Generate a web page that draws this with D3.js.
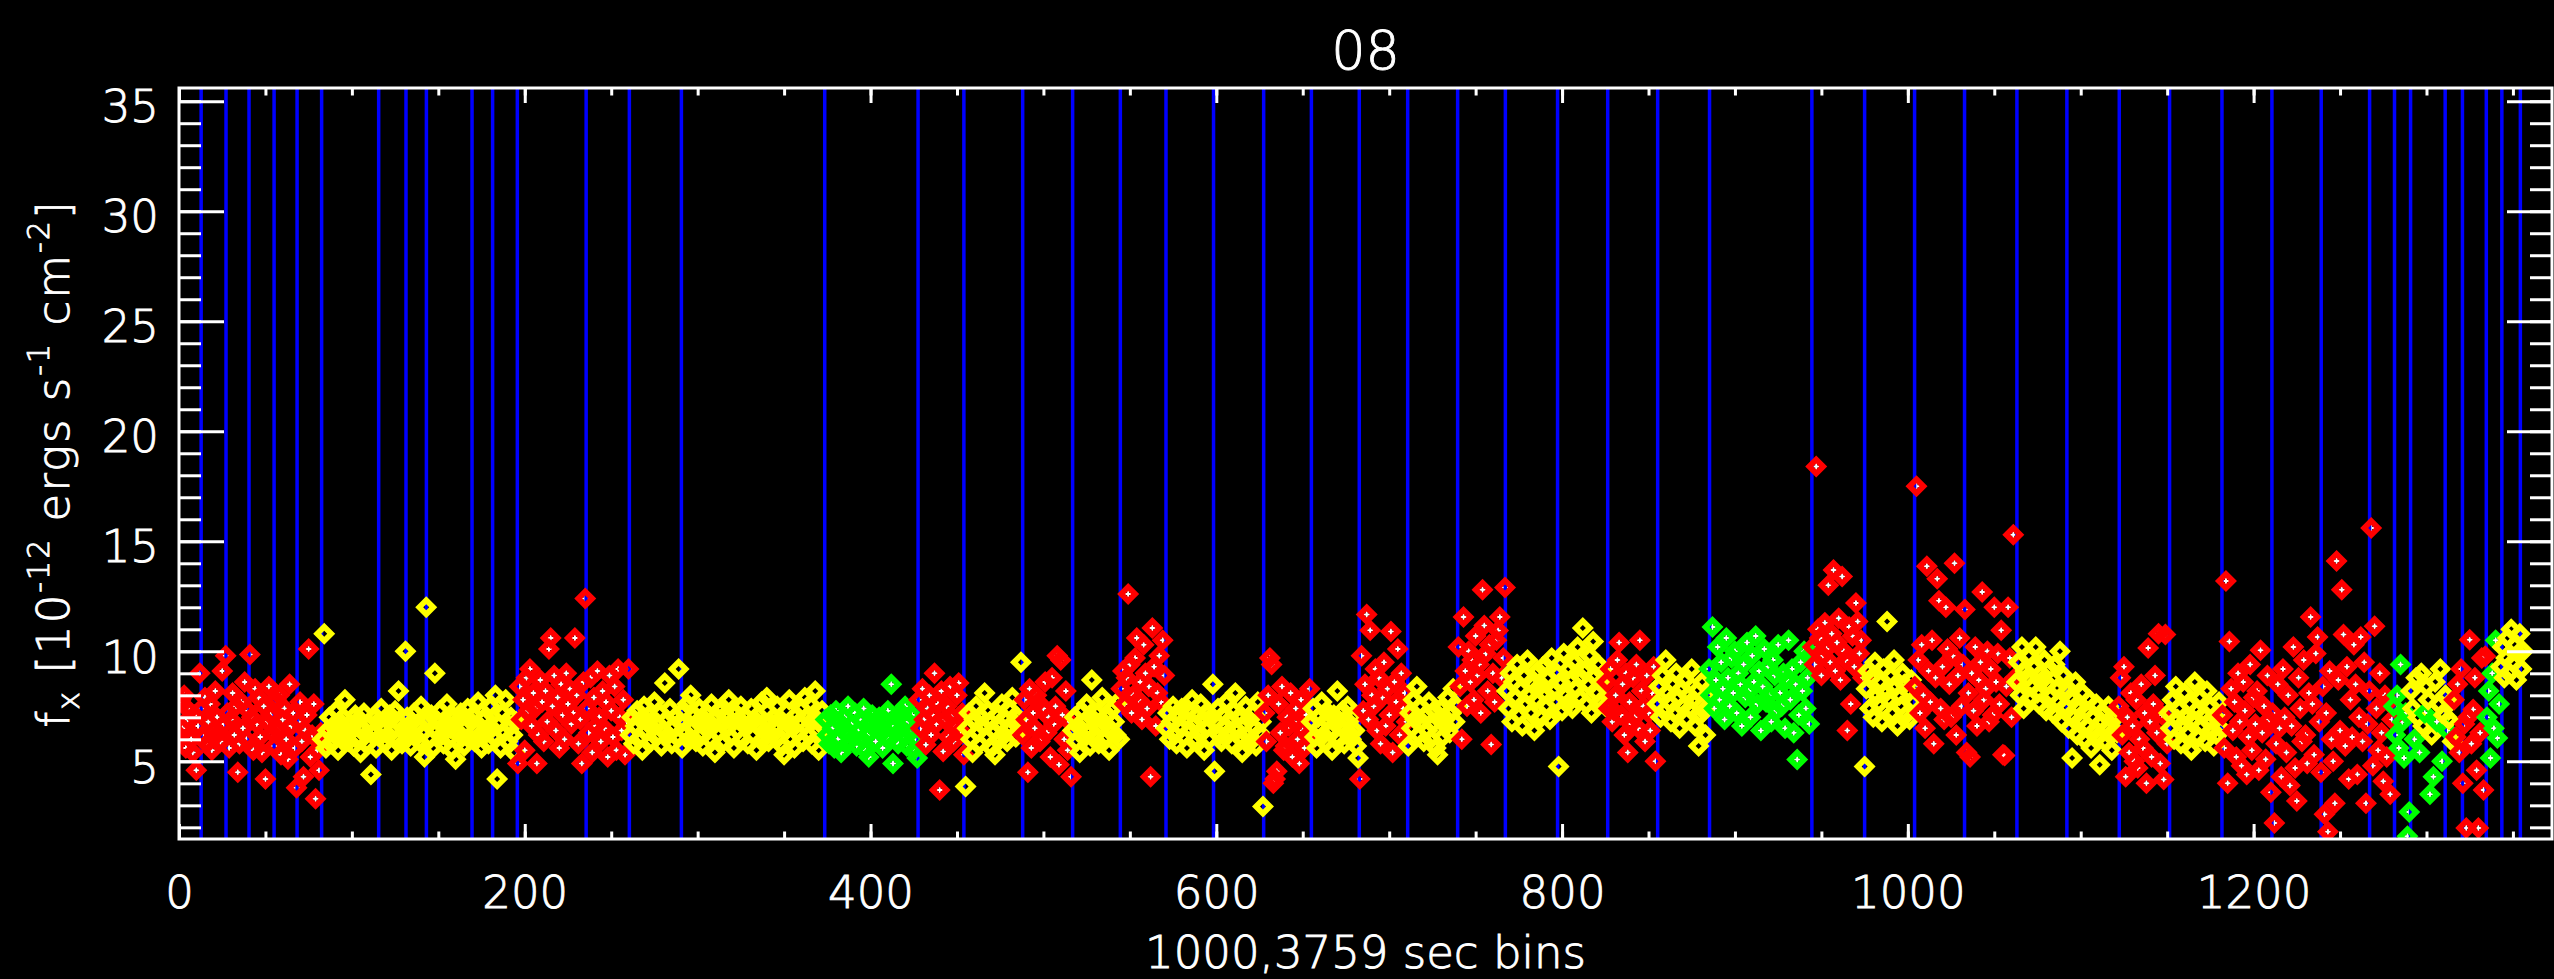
<!DOCTYPE html>
<html>
<head>
<meta charset="utf-8">
<script src="https://cdn.jsdelivr.net/npm/d3@7"></script>
<style>
  html, body { margin: 0; padding: 0; background: #000; }
  svg { display: block; }
  text { font-family: "DejaVu Sans", sans-serif; font-weight: 200; fill: #fff; stroke: #fff; stroke-width: 0.9px; }
</style>
</head>
<body>
<div id="app"></div>
<script>
const width = 2554;
const height = 979;
const margin = { top: 88, right: 2, bottom: 140, left: 179 };

const chartTitle = "08";
const xTitle = "1000,3759 sec bins";
const xDomain = [0, 1372.6];
const yDomain = [1.47, 35.6];
const xMajorTicks = [0, 200, 400, 600, 800, 1000, 1200];
const yMajorTicks = [5, 10, 15, 20, 25, 30, 35];

// bins where the blue interval lines sit
const intervalEdges = [12.8, 27.2, 40.5, 55, 68.3, 82.5, 115.5, 131.3, 143.1, 169.5, 181.4,
  195.7, 235.5, 260.5, 290.6, 373.5, 427.5, 454, 488, 516.9, 544.5, 570.9, 598.4, 627.4,
  655, 682.7, 710.7, 739.6, 767.2, 797.4, 826.4, 855.3, 885.3, 944.5, 975, 1003.9, 1032.8,
  1063.1, 1092, 1122.3, 1151.4, 1181.7, 1210.6, 1239.1, 1267.1, 1281.5, 1290.8, 1310.8,
  1320.8, 1334.6, 1343.6, 1354.3];

// first bin and colour class of each run of points
const runStart = [0, 83, 196, 261, 374, 428, 455, 488, 517, 545,
  571, 628, 655, 683, 711, 740, 768, 826, 855, 885,
  945, 975, 1004, 1063, 1122, 1151, 1182, 1281, 1291, 1293,
  1294, 1296, 1297, 1299, 1300, 1302, 1303, 1304, 1305, 1306,
  1307, 1309, 1310, 1312, 1313, 1316, 1335, 1343];
const runClass = ["red", "yellow", "red", "yellow", "green", "red", "yellow", "red", "yellow", "red",
  "yellow", "red", "yellow", "red", "yellow", "red", "yellow", "red", "yellow", "green",
  "red", "yellow", "red", "yellow", "red", "yellow", "red", "green", "yellow", "green",
  "yellow", "green", "yellow", "green", "yellow", "green", "yellow", "green", "yellow", "green",
  "yellow", "green", "yellow", "green", "yellow", "red", "green", "yellow"];

// flux per bin, one list per run
const fluxRuns = [
  [6.2, 7.8, 6.5, 8.0, 5.6, 6.9, 7.3, 6.0, 5.4, 7.1, 4.6, 6.6, 9.0,
   7.4, 6.1, 7.9, 5.8, 6.8, 7.6, 5.5, 6.4, 8.2, 7.0, 6.3, 5.9, 9.1, 6.7,
   9.8, 7.2, 5.6, 6.9, 8.1, 6.2, 7.5, 4.5, 5.8, 7.7, 6.5, 8.6, 6.0, 7.3,
   9.85, 7.0, 5.5, 8.3, 6.7, 7.9, 6.1, 5.4, 7.5, 4.2, 6.8, 8.4, 7.1, 6.3,
   5.7, 7.8, 6.4, 8.0, 5.3, 6.9, 7.4, 6.0, 5.1, 8.5, 6.6, 7.2, 5.6,
   3.8, 6.8, 7.7, 5.9, 4.3, 6.4, 7.1, 10.1, 5.2, 6.2, 7.6, 3.3, 5.5, 4.6, 6.3],
  [6.0, 10.8, 5.6, 6.4, 7.0, 5.8, 6.6, 6.2, 7.3, 5.5, 6.8, 6.1, 7.0, 7.8, 6.3, 5.9, 6.7,
   6.4, 5.7, 7.1, 6.0, 6.9, 5.4, 6.5, 7.2, 6.2, 5.8, 6.7, 4.4, 6.3, 7.0, 5.6, 6.8, 6.1,
   7.4, 6.6, 5.9, 6.9, 6.2, 7.1, 5.5, 6.4, 7.3, 6.0, 8.2, 6.7, 5.8, 6.5, 10.0, 7.0, 6.2,
   5.7, 6.8, 7.2, 6.1, 6.6, 5.9, 7.5, 6.3, 5.2, 12.0, 6.9, 6.0, 7.1, 5.6, 9.0, 6.4, 6.8,
   7.3, 6.2, 5.8, 6.7, 7.6, 6.0, 6.5, 5.5, 7.0, 5.1, 6.3, 6.9, 7.2, 6.1, 5.7, 6.6, 7.4,
   6.0, 6.8, 7.1, 5.9, 6.4, 7.7, 6.2, 5.6, 6.9, 7.0, 6.3, 5.8, 7.5, 6.5, 6.1, 8.0, 4.2,
   6.7, 5.6, 7.2, 6.3, 7.8, 5.9, 6.6, 7.0, 6.2, 5.4, 6.8],
  [4.9, 8.4, 6.9, 7.8, 5.5, 8.8, 7.3, 9.2, 6.6, 8.1, 7.4, 4.9, 6.2, 8.7, 7.7, 5.9,
   8.2, 6.8, 10.1, 10.6, 7.5, 8.9, 6.4, 7.9, 5.6, 8.5, 7.1, 6.0, 9.0, 7.6, 8.3, 6.7,
   7.2, 10.6, 8.0, 5.8, 6.9, 4.9, 8.6, 12.4, 7.4, 6.3, 8.8, 5.4, 7.9, 6.6, 9.1, 7.0,
   5.9, 8.2, 6.5, 7.7, 5.2, 8.9, 7.3, 6.1, 8.4, 5.5, 9.2, 7.0, 6.4, 7.8, 5.3, 6.8, 9.2],
  [6.2, 7.0, 5.8, 6.6, 7.3, 6.0, 6.9, 5.5, 7.5, 6.4, 6.8, 7.1, 5.9, 6.5, 7.7, 6.1, 6.7,
   7.2, 5.7, 6.4, 8.56, 6.9, 6.2, 7.4, 5.8, 6.6, 7.0, 6.1, 9.2, 6.8, 5.6, 7.3, 6.3, 7.6,
   6.0, 8.0, 6.5, 7.1, 5.9, 6.8, 7.4, 6.2, 5.7, 6.9, 7.2, 6.4, 6.0, 7.6, 6.6, 5.4, 7.0,
   6.3, 7.3, 6.7, 5.9, 7.1, 6.5, 7.8, 6.1, 6.8, 5.6, 7.2, 6.4, 6.9, 7.5, 6.0, 6.6, 7.0,
   5.8, 6.7, 7.4, 6.2, 6.9, 5.5, 7.1, 6.5, 7.7, 6.0, 6.4, 7.9, 5.9, 6.8, 6.2, 7.0, 6.6,
   7.5, 6.1, 6.9, 5.7, 5.3, 6.4, 6.7, 7.8, 6.0, 6.5, 5.6, 7.1, 6.3, 6.8, 7.4, 5.9, 7.9,
   7.0, 6.2, 7.6, 5.8, 6.9, 8.2, 6.4, 5.5, 6.7, 7.3, 6.0],
  [6.9, 6.2, 5.8, 7.1, 6.5, 5.6, 7.3, 6.0, 6.8, 5.4, 6.6, 7.0, 6.3, 7.5, 5.9, 6.7, 6.1, 7.2,
   5.7, 6.4, 6.9, 6.0, 7.4, 5.5, 6.2, 5.2, 6.8, 7.1, 6.5, 5.9, 6.7, 7.0, 6.3, 5.6, 6.9, 6.1,
   7.3, 6.0, 8.5, 4.9, 6.6, 7.0, 5.8, 6.4, 7.2, 6.2, 7.5, 5.7, 6.8, 6.3, 7.1, 5.5, 6.0, 5.15],
  [7.8, 6.5, 8.3, 6.9, 5.75, 7.4, 8.0, 6.2, 7.1, 9.0, 6.7, 7.6, 3.7, 8.2, 5.45,
   6.9, 7.5, 6.1, 8.4, 7.0, 5.9, 6.6, 8.0, 8.56, 6.4, 7.2, 5.3],
  [3.86, 6.5, 7.2, 6.0, 5.4, 6.9, 7.5, 6.3, 5.8, 7.0, 6.6, 8.1, 6.1, 7.3, 6.8, 5.6, 6.4,
   5.3, 7.1, 6.7, 6.0, 7.6, 6.2, 6.9, 5.9, 7.4, 6.5, 7.9, 6.8, 6.1, 7.0, 6.4, 9.5],
  [6.2, 7.8, 6.9, 4.5, 8.3, 5.6, 7.2, 6.5, 8.0, 7.7, 5.9, 6.06, 7.4, 8.6, 6.3,
   7.0, 5.2, 8.8, 6.7, 7.5, 9.8, 4.85, 9.6, 7.1, 6.0, 8.2, 5.5, 6.8, 4.3],
  [6.4, 7.0, 5.9, 6.6, 5.4, 7.3, 6.1, 6.8, 7.6, 6.3, 5.7, 8.7, 6.9, 6.2,
   7.2, 5.8, 6.5, 7.9, 6.0, 6.7, 7.1, 5.5, 6.4, 7.4, 6.8, 6.2, 7.7, 6.0],
  [8.3, 9.1, 7.6, 8.8, 12.6, 9.4, 7.2, 8.0, 9.7, 10.6, 7.8, 8.6, 6.9,
   10.3, 9.0, 7.4, 8.4, 4.3, 11.06, 9.3, 6.6, 8.1, 9.8, 7.7, 10.5, 8.9],
  [6.5, 7.2, 6.0, 6.8, 7.5, 6.2, 5.8, 7.0, 6.6, 7.4, 6.1, 6.9, 5.6, 7.3, 6.4, 7.8, 6.7, 6.0, 7.1,
   6.3, 7.6, 6.9, 5.5, 6.5, 7.2, 6.0, 7.0, 8.5, 4.55, 6.8, 7.4, 6.2, 5.9, 7.1, 6.6, 7.7, 6.3, 6.9,
   5.8, 7.3, 8.1, 6.4, 7.0, 6.1, 5.4, 6.7, 7.5, 6.2, 6.9, 5.9, 7.2, 6.5, 5.7, 7.7, 6.3, 6.8, 2.95],
  [7.2, 5.9, 8.0, 9.7, 9.4, 4.0, 4.2, 4.55, 7.6, 6.3, 8.4, 5.5, 5.7, 7.0,
   6.6, 8.1, 5.2, 6.8, 7.4, 6.0, 4.9, 7.8, 6.4, 5.6, 7.1, 6.2, 8.3],
  [6.8, 7.4, 6.1, 5.6, 7.0, 6.5, 7.7, 6.2, 5.9, 6.9, 7.2, 6.4, 5.5, 7.1,
   6.7, 8.2, 6.0, 6.6, 7.3, 5.8, 6.9, 7.5, 6.3, 6.0, 7.0, 6.4, 5.7, 5.15],
  [4.2, 9.8, 7.3, 8.5, 11.67, 6.9, 10.96, 8.0, 7.5, 9.2, 6.4, 8.8, 5.8, 7.9,
   9.5, 6.6, 8.3, 7.1, 10.9, 5.4, 8.6, 7.7, 10.1, 6.2, 9.0, 7.4, 8.1, 6.8],
  [5.7, 7.2, 6.5, 7.8, 6.9, 8.4, 6.2, 7.5, 6.8, 5.9, 7.1, 6.4, 7.7, 6.0, 6.7,
   7.3, 5.6, 5.3, 6.9, 7.4, 6.1, 7.0, 6.6, 7.9, 6.3, 7.2, 8.3, 6.8, 7.5],
  [10.2, 8.4, 6.0, 11.56, 9.1, 7.5, 10.0, 8.6, 9.6, 7.8, 10.7, 8.9, 9.4, 7.2,
   12.8, 11.17, 9.9, 8.2, 10.3, 5.76, 9.0, 7.7, 10.5, 10.94, 11.56, 8.8, 9.7, 12.9],
  [8.2, 7.4, 9.0, 6.8, 8.6, 7.9, 9.4, 7.1, 8.3, 6.6, 8.9, 7.6, 9.6, 8.0, 7.2, 8.5, 6.4, 7.8, 9.1,
   8.4, 7.0, 9.3, 8.1, 7.5, 8.8, 6.9, 9.7, 8.2, 7.7, 9.0, 4.77, 8.6, 7.3, 9.9, 8.0, 7.6, 9.2, 8.7,
   7.4, 9.5, 8.3, 10.2, 7.9, 8.8, 11.06, 9.1, 7.6, 8.5, 9.8, 7.2, 10.45, 8.9, 8.1, 9.4, 7.7, 8.6, 9.0, 7.5],
  [8.6, 7.4, 9.2, 6.8, 7.3, 8.0, 9.6, 10.4, 7.1, 8.5, 6.2, 9.0, 5.4, 7.7, 6.7,
   8.8, 7.0, 9.4, 6.5, 10.5, 8.2, 7.5, 5.9, 8.9, 7.2, 6.4, 8.1, 9.3, 5.0],
  [7.6, 8.4, 7.0, 8.9, 7.3, 9.6, 8.1, 7.7, 6.8, 8.5, 7.2, 9.0, 7.9, 6.5, 8.3,
   7.5, 8.7, 6.9, 8.0, 7.4, 9.2, 7.8, 6.6, 8.2, 5.7, 7.1, 8.6, 7.3, 6.2, 8.0],
  [9.2, 8.0, 11.1, 7.4, 8.7, 10.2, 7.8, 9.5, 8.3, 6.9, 10.6, 8.8, 7.5, 9.7, 8.1, 10.0, 7.2, 9.0, 8.5, 6.6,
   9.4, 7.9, 10.4, 8.2, 7.0, 9.8, 8.6, 10.7, 7.6, 9.1, 6.4, 8.4, 10.1, 7.7, 9.3, 8.0, 6.8, 9.6, 8.9, 7.3,
   10.3, 8.1, 7.5, 9.0, 6.5, 8.7, 10.5, 7.8, 9.2, 6.3, 8.5, 5.08, 7.1, 9.5, 8.2, 10.0, 7.4, 8.8, 6.7, 9.9],
  [10.2, 9.4, 18.4, 11.0, 10.6, 8.9, 9.8, 11.3, 10.1, 13.0, 9.5, 10.8, 13.7, 9.1, 10.4,
   11.5, 8.7, 13.4, 10.0, 9.6, 6.4, 11.1, 7.6, 10.7, 9.3, 12.2, 11.36, 9.9, 10.5, 8.8],
  [4.77, 8.3, 9.1, 7.4, 8.8, 7.0, 9.5, 8.0, 7.6, 8.6, 6.8, 9.2, 8.1, 11.36, 7.8,
   8.9, 7.2, 9.6, 8.4, 6.6, 8.0, 7.5, 9.0, 8.5, 7.1, 8.2, 6.9, 8.7, 7.7],
  [8.4, 17.5, 9.6, 7.2, 10.3, 8.0, 6.5, 13.86, 9.1, 7.7, 10.5, 5.8, 8.8, 13.3, 12.3, 7.4, 9.3, 6.9, 12.0, 10.1,
   8.5, 7.0, 9.8, 14.0, 6.2, 8.9, 10.6, 7.5, 9.4, 11.9, 5.4, 8.1, 5.2, 9.0, 7.3, 10.2, 6.6, 8.7, 9.5, 12.7,
   7.8, 8.3, 10.0, 6.8, 9.2, 7.1, 12.0, 8.6, 9.9, 7.6, 10.96, 5.3, 5.26, 8.4, 12.0, 9.7, 7.0, 15.3, 8.8],
  [8.6, 9.5, 8.0, 10.2, 7.4, 9.1, 8.8, 9.8, 7.9, 8.4, 9.3, 10.2, 8.1, 7.6, 9.0, 8.7, 9.6, 7.3, 8.5, 9.2,
   8.0, 7.2, 9.4, 8.3, 7.7, 10.0, 6.8, 8.9, 7.5, 8.2, 6.5, 7.9, 5.15, 7.0, 8.6, 6.2, 7.4, 6.9, 8.1, 6.0,
   7.3, 6.6, 7.8, 5.6, 7.0, 6.4, 7.6, 6.1, 4.85, 6.8, 7.2, 5.9, 6.5, 7.5, 6.2, 5.5, 6.9, 7.1, 6.3],
  [7.5, 8.8, 6.2, 9.3, 4.3, 7.0, 5.4, 8.1, 6.6, 5.0, 7.8, 4.7, 6.0, 8.5, 5.6,
   7.2, 4.0, 10.15, 6.8, 5.2, 7.6, 8.9, 6.3, 10.8, 4.9, 7.1, 4.17, 10.76, 5.8],
  [7.2, 6.5, 7.8, 6.0, 8.4, 6.9, 7.4, 5.8, 6.7, 8.1, 7.0, 6.3, 7.6, 5.5, 6.9, 8.6,
   7.3, 6.1, 7.9, 6.6, 7.1, 5.9, 8.2, 6.8, 7.5, 6.4, 5.7, 7.0, 6.2, 7.7, 6.5],
  [7.1, 5.6, 13.2, 4.0, 10.45, 8.3, 6.4, 7.7, 5.2, 9.0, 6.8, 4.8, 8.6, 7.3, 4.4, 6.1, 9.4, 5.5, 7.9, 6.7,
   8.2, 4.6, 10.05, 6.3, 7.5, 5.1, 8.9, 6.9, 3.6, 7.2, 2.2, 5.8, 8.5, 6.5, 4.3, 9.2, 7.0, 5.4, 8.0, 3.9,
   6.6, 10.2, 4.7, 3.2, 8.8, 7.4, 5.9, 9.6, 6.2, 4.9, 8.1, 11.56, 7.6, 5.3, 9.9, 10.65, 6.8, 4.5, 8.4, 2.6,
   7.2, 1.8, 9.1, 6.0, 5.0, 3.1, 14.1, 8.7, 6.4, 12.8, 10.76, 5.7, 9.3, 4.2, 7.8, 6.1, 10.3, 8.5, 4.4, 7.0,
   10.65, 5.9, 9.5, 3.1, 6.7, 8.2, 15.6, 4.8, 11.14, 7.4, 5.5, 9.0, 6.3, 4.1, 8.0, 5.2, 7.7, 3.5, 6.9],
  [7.5, 6.2, 8.0, 5.6, 9.4, 6.8, 5.15, 7.2, 1.6, 2.7],
  [8.2, 7.4],
  [6.0],
  [8.8, 7.0],
  [5.4],
  [9.0, 6.6],
  [7.2],
  [8.4, 7.8],
  [3.5],
  [6.2],
  [4.3],
  [8.6],
  [6.8],
  [7.6, 9.2],
  [5.0],
  [7.1, 8.0],
  [6.4],
  [6.9, 7.7, 5.9],
  [7.8, 6.1, 8.5, 5.4, 9.2, 4.0, 6.7, 1.97, 7.0, 10.53, 5.8, 7.35, 8.8, 4.6, 1.97, 6.3, 9.7, 3.7, 9.77],
  [7.0, 8.2, 5.15, 9.0, 6.5, 10.5, 6.06, 7.6],
  [9.3, 10.2, 8.8, 9.7, 10.6, 9.0, 11.0, 9.5, 10.3, 8.7, 9.9, 10.8, 9.2, 10.0]
];

const classColor = { red: "#ff0000", yellow: "#ffff00", green: "#00ff00" };

const points = [];
fluxRuns.forEach((run, k) => {
  run.forEach((v, j) => points.push({ bin: runStart[k] + j, flux: v, cls: runClass[k] }));
});

const xScale = d3.scaleLinear().domain(xDomain).range([margin.left, width - margin.right]);
const yScale = d3.scaleLinear().domain(yDomain).range([height - margin.bottom, margin.top]);
const plotTop = margin.top;
const plotBottom = height - margin.bottom;

const svg = d3.select("div#app")
  .append("svg")
  .attr("width", width)
  .attr("height", height)
  .style("background", "#000");

svg.append("defs").append("clipPath").attr("id", "plotClip")
  .append("rect")
  .attr("x", margin.left)
  .attr("y", plotTop)
  .attr("width", width - margin.right - margin.left)
  .attr("height", plotBottom - plotTop);

const plot = svg.append("g").attr("clip-path", "url(#plotClip)");

// white centre marks (show through the diamond holes)
plot.append("g")
  .selectAll("path")
  .data(points.filter((d) => d.cls !== "yellow"))
  .join("path")
  .attr("transform", (d) => `translate(${xScale(d.bin)},${yScale(d.flux)})`)
  .attr("d", "M-3.5,0H3.5M0,-3.5V3.5")
  .attr("stroke", "#fff")
  .attr("stroke-width", 2);

// interval lines
plot.append("g")
  .selectAll("line")
  .data(intervalEdges)
  .join("line")
  .attr("x1", (d) => xScale(d))
  .attr("x2", (d) => xScale(d))
  .attr("y1", plotTop)
  .attr("y2", plotBottom)
  .attr("stroke", "#0000ff")
  .attr("stroke-width", 3.5);

// diamonds
plot.append("g")
  .selectAll("path")
  .data(points)
  .join("path")
  .attr("transform", (d) => `translate(${xScale(d.bin)},${yScale(d.flux)})`)
  .attr("d", "M0,-11L11,0L0,11L-11,0ZM0,-3L-3,0L0,3L3,0Z")
  .attr("fill-rule", "evenodd")
  .attr("fill", (d) => classColor[d.cls]);

// axes
function styleAxis(g) {
  g.select(".domain").remove();
  g.selectAll(".tick line").attr("stroke", "#fff").attr("stroke-width", 3);
  g.selectAll(".tick text").attr("fill", "#fff").style("font-size", "45px");
}

svg.append("g")
  .attr("transform", `translate(0,${plotBottom})`)
  .call(d3.axisBottom(xScale).tickValues(xMajorTicks).tickSize(-15).tickPadding(37).tickFormat(d3.format("d")))
  .call(styleAxis);
svg.append("g")
  .attr("transform", `translate(0,${plotBottom})`)
  .call(d3.axisBottom(xScale).tickValues(d3.range(50, 1372, 50)).tickSize(-7.5).tickFormat(""))
  .call(styleAxis);
svg.append("g")
  .attr("transform", `translate(0,${plotTop})`)
  .call(d3.axisTop(xScale).tickValues(xMajorTicks).tickSize(-15).tickFormat(""))
  .call(styleAxis);
svg.append("g")
  .attr("transform", `translate(0,${plotTop})`)
  .call(d3.axisTop(xScale).tickValues(d3.range(50, 1372, 50)).tickSize(-7.5).tickFormat(""))
  .call(styleAxis);

svg.append("g")
  .attr("transform", `translate(${margin.left},0)`)
  .call(d3.axisLeft(yScale).tickValues(yMajorTicks).tickSize(-45).tickPadding(20).tickFormat(d3.format("d")))
  .call(styleAxis)
  .call((g) => g.selectAll(".tick text").attr("dy", "0.46em"));
svg.append("g")
  .attr("transform", `translate(${margin.left},0)`)
  .call(d3.axisLeft(yScale).tickValues(d3.range(2, 36, 1)).tickSize(-22).tickFormat(""))
  .call(styleAxis);
svg.append("g")
  .attr("transform", `translate(${width - margin.right},0)`)
  .call(d3.axisRight(yScale).tickValues(yMajorTicks).tickSize(-45).tickFormat(""))
  .call(styleAxis);
svg.append("g")
  .attr("transform", `translate(${width - margin.right},0)`)
  .call(d3.axisRight(yScale).tickValues(d3.range(2, 36, 1)).tickSize(-22).tickFormat(""))
  .call(styleAxis);

// frame
svg.append("rect")
  .attr("x", margin.left)
  .attr("y", plotTop)
  .attr("width", width - margin.right - margin.left)
  .attr("height", plotBottom - plotTop)
  .attr("fill", "none")
  .attr("stroke", "#fff")
  .attr("stroke-width", 3);

const midX = (margin.left + width - margin.right) / 2;

svg.append("text")
  .attr("x", midX)
  .attr("y", 69)
  .attr("text-anchor", "middle")
  .style("font-size", "54px")
  .text(chartTitle);

svg.append("text")
  .attr("x", midX)
  .attr("y", 968)
  .attr("text-anchor", "middle")
  .style("font-size", "45px")
  .text(xTitle);

const yTitle = svg.append("text")
  .attr("transform", `translate(69,${(plotTop + plotBottom) / 2}) rotate(-90)`)
  .attr("text-anchor", "middle")
  .style("font-size", "45px")
  .style("letter-spacing", "2px");
yTitle.append("tspan").text("f");
yTitle.append("tspan").attr("dy", 10).style("font-size", "30px").text("x");
yTitle.append("tspan").attr("dy", -10).text(" [10");
yTitle.append("tspan").attr("dy", -20).style("font-size", "30px").text("-12");
yTitle.append("tspan").attr("dy", 20).text(" ergs s");
yTitle.append("tspan").attr("dy", -20).style("font-size", "30px").text("-1");
yTitle.append("tspan").attr("dy", 20).text(" cm");
yTitle.append("tspan").attr("dy", -20).style("font-size", "30px").text("-2");
yTitle.append("tspan").attr("dy", 20).text("]");
</script>
</body>
</html>
